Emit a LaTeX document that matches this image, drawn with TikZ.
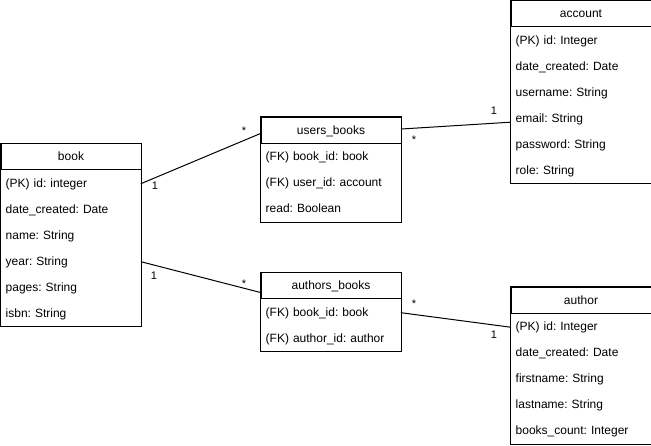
\documentclass[tikz,border=0pt]{standalone}
\usepackage{fontspec}
\setmainfont{Liberation Sans}
\frenchspacing
\usetikzlibrary{calc,fit}

\tikzset{
  tblhead/.style={draw, line width=1pt, minimum width=140pt, minimum height=26pt,
    inner sep=0pt, text height=9.5pt, text depth=2.1pt,
    font=\fontsize{12}{14}\selectfont, anchor=north west},
  tblrow/.style={minimum height=26pt, text width=130pt, inner xsep=5pt, inner ysep=0pt,
    text height=9.5pt, text depth=2.1pt, align=left,
    font=\fontsize{12}{14}\selectfont, anchor=north west},
  tblframe/.style={draw, line width=1pt, inner sep=0pt},
  mult/.style={font=\fontsize{11}{13}\selectfont, inner sep=0pt, anchor=base},
  rel/.style={draw, line width=1pt}
}

% #1 name, #2 top-left corner, #3 title, #4 number of rows, #5 rows
\newcommand\erdtable[5]{%
  \node[tblhead] (#1-h) at #2 {#3};
  \foreach \rowtext [count=\k] in {#5} {
    \node[tblrow] (#1-\k) at ($(#1-h.south west)+(0,{26*(\k-1)})$) {\rowtext};
  }
  \node[tblframe, fit=(#1-h)(#1-#4)] (#1) {};
}

\begin{document}
\begin{tikzpicture}[x=1pt, y=-1pt]
  \useasboundingbox (0,0) rectangle (651,446);

  \erdtable{book}{(0.5,143.5)}{book}{6}{
    (PK) id: integer, date\_created: Date, name: String,
    year: String, pages: String, isbn: String}

  \erdtable{ub}{(260.5,117)}{users\_books}{3}{
    (FK) book\_id: book, (FK) user\_id: account, read: Boolean}

  \erdtable{ab}{(260.5,272.5)}{authors\_books}{2}{
    (FK) book\_id: book, (FK) author\_id: author}

  \erdtable{acc}{(510.5,0.5)}{account}{6}{
    (PK) id: Integer, date\_created: Date, username: String,
    email: String, password: String, role: String}

  \erdtable{au}{(510.5,287)}{author}{5}{
    (PK) id: Integer, date\_created: Date, firstname: String,
    lastname: String, books\_count: Integer}

  % relationships
  \draw[rel] (book-1.east) -- ([yshift=-3pt]ub-h.west);
  \draw[rel] (book-4.east) -- ([yshift=-6.5pt]ab-h.west);
  \draw[rel] ([yshift=1.5pt]ub-h.east) -- ([yshift=-3.5pt]acc-4.west);
  \draw[rel] (ab-1.east) -- (au-1.west);

  % multiplicities
  \node[mult] (m1) at (155,190) {1};
  \node[mult] (m2) at (244,134.5) {*};
  \node[mult] (m3) at (154,280) {1};
  \node[mult] (m4) at (244,287.5) {*};
  \node[mult] (m5) at (494,114.5) {1};
  \node[mult] (m6) at (414,144) {*};
  \node[mult] (m7) at (414,308) {*};
  \node[mult] (m8) at (494,338.5) {1};
\end{tikzpicture}
\end{document}
